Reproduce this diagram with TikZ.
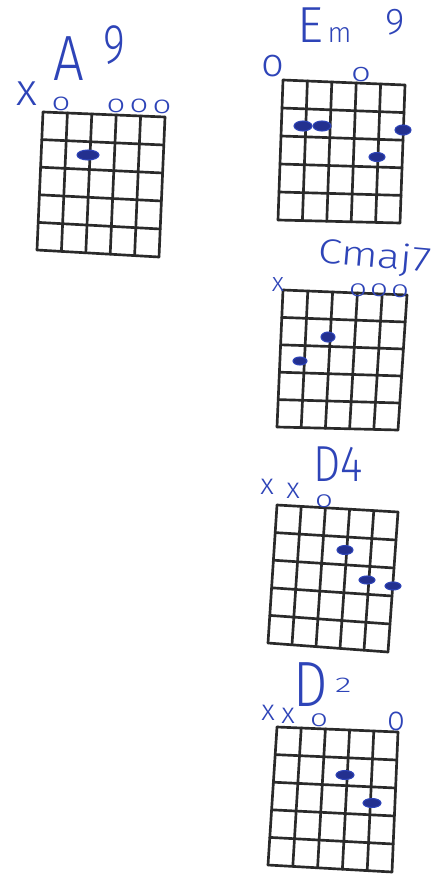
\documentclass[tikz,border=0pt]{standalone}
\usepackage{fontspec}
\setmainfont{Fira Sans}[UprightFont=* Light]
\usetikzlibrary{calc}
\definecolor{ink}{HTML}{2E44B8}
\definecolor{dotink}{HTML}{23308F}
\definecolor{gridink}{HTML}{2A2A2A}
\tikzset{
  gridline/.style={draw=gridink, line width=2pt, line cap=round},
  chorddot/.style={fill=dotink, draw=ink, line width=0.8pt},
  inktext/.style={text=ink, inner sep=0pt, outer sep=0pt},
  marker/.style={inktext, font=\fontsize{19}{19}\selectfont, xscale=1.3},
}
\newcommand\chordgrid[4]{%
  \foreach \i in {0,...,5}{%
    \draw[gridline] ($(#1)!\i/5!(#2)$) -- ($(#3)!\i/5!(#4)$);
    \draw[gridline] ($(#1)!\i/5!(#3)$) -- ($(#2)!\i/5!(#4)$);
  }}
\begin{document}
\begin{tikzpicture}[x=0.75pt,y=-0.75pt]
\useasboundingbox (0,0) rectangle (448,874);
\fill[white] (0,0) rectangle (448,874);

% ---------- A9 ----------
\coordinate (atl) at (43,112); \coordinate (atr) at (165,117);
\coordinate (abl) at (37,250); \coordinate (abr) at (159,257);
\chordgrid{atl}{atr}{abl}{abr}
\node[inktext, anchor=base west, xscale=0.85, font=\fontsize{48}{48}\selectfont] (aname) at (53,80) {A};
\node[inktext, anchor=base west, xscale=0.75, font=\fontsize{42}{42}\selectfont] (anine) at (103,64) {9};
\node[inktext, font=\fontsize{34}{34}\selectfont] (ax) at (27,94) {x};
\node[marker] (ao2) at (61,104) {o};
\node[marker] (ao4) at (116,106) {o};
\node[marker] (ao5) at (139,106) {o};
\node[marker] (ao6) at (162,107) {o};
\draw[chorddot] (88,155) ellipse [x radius=11, y radius=5];

% ---------- Em9 ----------
\coordinate (etl) at (283,80); \coordinate (etr) at (405,85);
\coordinate (ebl) at (278,220); \coordinate (ebr) at (400,223);
\chordgrid{etl}{etr}{ebl}{ebr}
\node[inktext, anchor=base west] (ename) at (297,43) {\fontsize{38}{38}\selectfont E\fontsize{21}{21}\selectfont\,m};
\node[inktext, anchor=base west, font=\fontsize{28}{28}\selectfont] (enine) at (385,35) {9};
\node[inktext, font=\fontsize{30}{30}\selectfont] (eo1) at (273,66) {o};
\node[marker, font=\fontsize{20}{20}\selectfont] (eo4) at (361,75) {o};
\draw[chorddot] (303,126) ellipse [x radius=9, y radius=5];
\draw[chorddot] (322,126) ellipse [x radius=9, y radius=5];
\draw[chorddot] (403,130) ellipse [x radius=8, y radius=5];
\draw[chorddot] (377,157) ellipse [x radius=8, y radius=4.5];

% ---------- Cmaj7 ----------
\coordinate (ctl) at (283,290); \coordinate (ctr) at (407,295);
\coordinate (cbl) at (277,427); \coordinate (cbr) at (398,430);
\chordgrid{ctl}{ctr}{cbl}{cbr}
\node[inktext, anchor=base west, rotate=-5, xscale=1.25, font=\fontsize{26}{26}\selectfont] (cname) at (317,262) {Cmaj7};
\node[inktext, font=\fontsize{20}{20}\selectfont] (cx) at (278,285) {x};
\node[marker, font=\fontsize{18}{18}\selectfont] (co4) at (358,290) {o};
\node[marker, font=\fontsize{18}{18}\selectfont] (co5) at (379,290) {o};
\node[marker, font=\fontsize{18}{18}\selectfont] (co6) at (400,291) {o};
\draw[chorddot] (328,337) ellipse [x radius=7, y radius=5];
\draw[chorddot] (300,361) ellipse [x radius=7, y radius=4];

% ---------- D4 ----------
\coordinate (dtl) at (277,505); \coordinate (dtr) at (398,512);
\coordinate (dbl) at (268,643); \coordinate (dbr) at (388,652);
\chordgrid{dtl}{dtr}{dbl}{dbr}
\node[inktext, anchor=base west, xscale=0.85, font=\fontsize{38}{38}\selectfont] (dname) at (313,481) {D4};
\node[inktext, font=\fontsize{22}{22}\selectfont] (dx1) at (267,487) {x};
\node[inktext, font=\fontsize{22}{22}\selectfont] (dx2) at (293,491) {x};
\node[marker, font=\fontsize{18}{18}\selectfont] (do3) at (324,501) {o};
\draw[chorddot] (345,550) ellipse [x radius=8, y radius=4.5];
\draw[chorddot] (367,580) ellipse [x radius=8, y radius=4];
\draw[chorddot] (393,586) ellipse [x radius=8, y radius=4];

% ---------- D2 ----------
\coordinate (ftl) at (277,727); \coordinate (ftr) at (398,732);
\coordinate (fbl) at (268,865); \coordinate (fbr) at (392,872);
\chordgrid{ftl}{ftr}{fbl}{fbr}
\node[inktext, anchor=base west, xscale=0.85, font=\fontsize{48}{48}\selectfont] (fname) at (293,706) {D};
\node[inktext, anchor=base west, xscale=1.6, font=\fontsize{16}{16}\selectfont] (ftwo) at (335,692) {2};
\node[inktext, font=\fontsize{22}{22}\selectfont] (fx1) at (268,713) {x};
\node[inktext, font=\fontsize{22}{22}\selectfont] (fx2) at (288,716) {x};
\node[marker, font=\fontsize{18}{18}\selectfont] (fo3) at (319,720) {o};
\node[inktext, xscale=0.9, font=\fontsize{26}{26}\selectfont] (fo6) at (396,721) {o};
\draw[chorddot] (345,775) ellipse [x radius=9, y radius=4.5];
\draw[chorddot] (372,803) ellipse [x radius=9, y radius=4.5];
\end{tikzpicture}
\end{document}
